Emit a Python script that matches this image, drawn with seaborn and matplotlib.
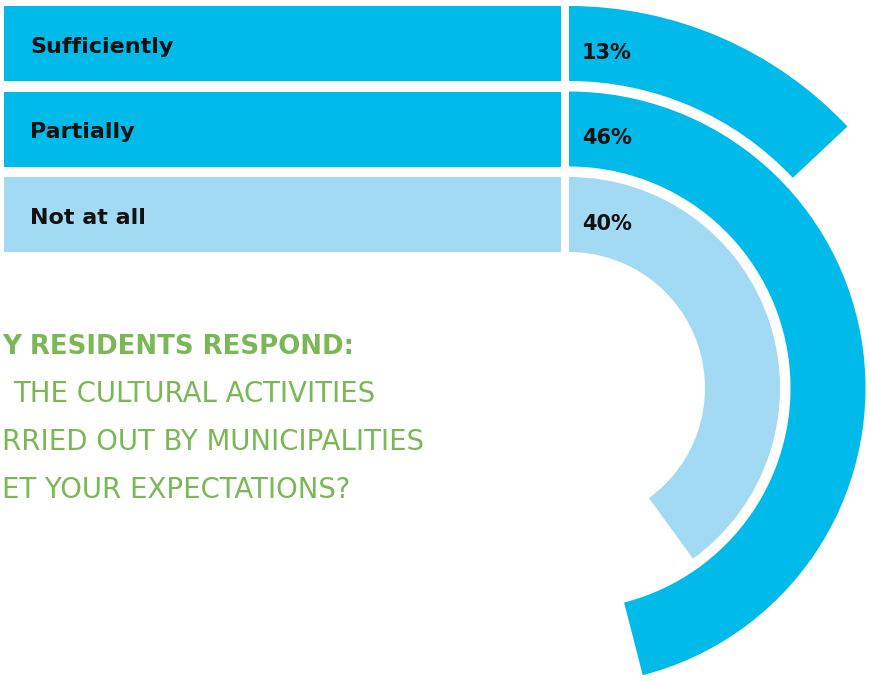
import numpy as np
import pandas as pd
import matplotlib
matplotlib.use("Agg")
import matplotlib.pyplot as plt
import seaborn as sns

# data
answers = ["Sufficiently", "Partially", "Not at all"]
shares = [13, 46, 40]
band_colors = ["#00BBEA", "#00BBEA", "#A1DAF2"]
# the question as far as it is visible in the source (cut at the left edge)
title_lines = ["Y RESIDENTS RESPOND:",
               "THE CULTURAL ACTIVITIES",
               "RRIED OUT BY MUNICIPALITIES",
               "ET YOUR EXPECTATIONS?"]

sns.set_theme(style="white")
plt.rcParams["font.family"] = ["DejaVu Sans"]

W, H = 871, 681
fig = plt.figure(figsize=(W / 100, H / 100), dpi=100, facecolor="white")

# row geometry in pixels (top of image = 0)
row_top, row_step, row_h = 43.5, 85.5, 75
cx, cy = 569, 388          # centre of the rings
bar_left, bar_right = 4, 561

# right: rings, 100% = full turn, clockwise from the top
R = cy
ax_pol = fig.add_axes([(cx - R) / W, 1 - (cy + R) / H, 2 * R / W, 2 * R / H],
                      projection="polar")
ax_pol.set_theta_zero_location("N")
ax_pol.set_theta_direction(-1)
for i, (val, col) in enumerate(zip(shares, band_colors)):
    r_in = cy - (row_top + i * row_step) - row_h / 2
    ax_pol.bar(0, row_h, width=np.deg2rad(val * 3.6), bottom=r_in,
               align="edge", color=col, linewidth=0)
ax_pol.set_ylim(0, R)
ax_pol.axis("off")

# left: flat label bands
ax_bar = fig.add_axes([bar_left / W, 1 - (row_top + 2.5 * row_step) / H,
                       (bar_right - bar_left) / W, 3 * row_step / H])
ax_bar.set_zorder(2)
df = pd.DataFrame({"answer": answers, "band": [1] * len(answers)})
sns.barplot(data=df, x="band", y="answer", hue="answer", palette=band_colors,
            orient="h", width=row_h / row_step, saturation=1, legend=False,
            ax=ax_bar)
for p in ax_bar.patches:
    p.set_linewidth(0)
ax_bar.set_xlim(0, 1)
ax_bar.set_ylim(2.5, -0.5)
ax_bar.axis("off")

for i, (name, val) in enumerate(zip(answers, shares)):
    ax_bar.text((30 - bar_left) / (bar_right - bar_left), i + 0.111, name,
                transform=ax_bar.get_yaxis_transform(), ha="left", va="baseline",
                fontsize=16, fontweight="bold", color="#111111")
    ax_bar.text((582 - bar_left) / (bar_right - bar_left), i + 0.18, f"{val}%",
                transform=ax_bar.get_yaxis_transform(), ha="left", va="baseline",
                fontsize=15, fontweight="bold", color="#111111", clip_on=False)

# question text
lefts = [2, 13, 2, 2]
baselines = [354, 402, 450, 498]
for k, (line, xl, yb) in enumerate(zip(title_lines, lefts, baselines)):
    fig.text(xl / W, 1 - yb / H, line, ha="left", va="baseline",
             fontsize=18.7 if k == 0 else 19.8, color="#7AB856",
             fontweight="bold" if k == 0 else "normal")

fig.savefig("out.png", dpi=100, facecolor="white")
